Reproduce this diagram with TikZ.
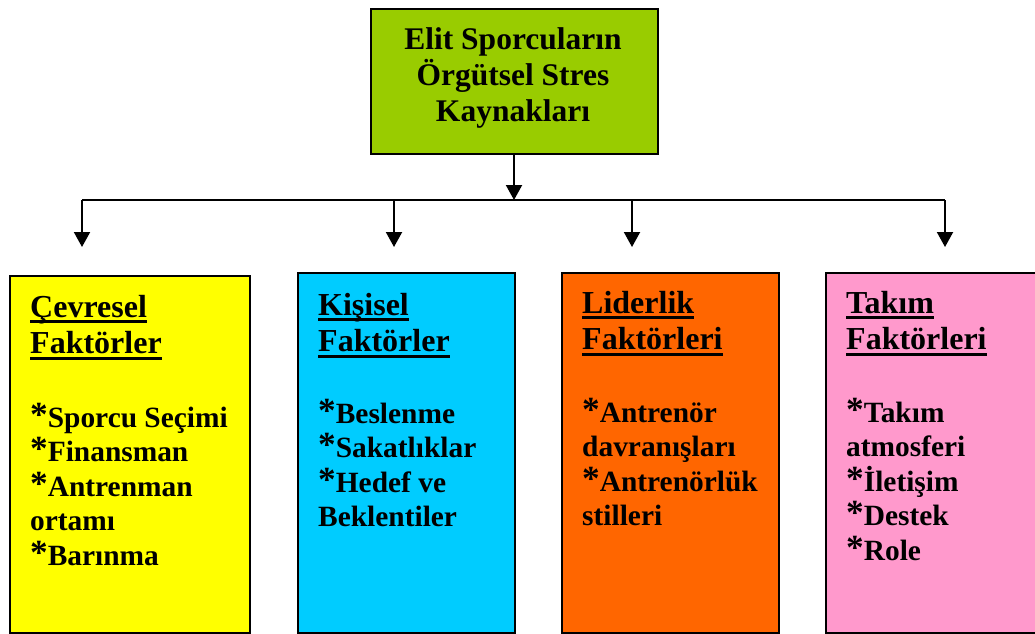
\documentclass[tikz,border=0pt]{standalone}
\usepackage{fontspec}
\usepackage{graphicx}
\setmainfont{Liberation Serif}
\usetikzlibrary{arrows.meta}

\definecolor{topgreen}{HTML}{99CC00}
\definecolor{boxyellow}{HTML}{FFFF00}
\definecolor{boxcyan}{HTML}{00CCFF}
\definecolor{boxorange}{HTML}{FF6600}
\definecolor{boxpink}{HTML}{FF99CC}

% thick underline for the box headings
\newsavebox\hdbox
\newcommand\hdul[1]{\leavevmode\sbox\hdbox{#1}\rlap{\rule[-6pt]{\wd\hdbox}{3pt}}\usebox\hdbox}
% raised asterisk in front of each item
\newcommand\itemstar{\leavevmode\raisebox{1pt}{\scalebox{1.2}{*}}}

\tikzset{
  panel/.style={draw=black, line width=2pt, rectangle, inner sep=0pt, anchor=north west},
  headtext/.style={anchor=base west, inner sep=0pt, font=\fontsize{32}{36.5}\selectfont\bfseries},
  bodytext/.style={anchor=base west, inner sep=0pt, font=\fontsize{29.4}{34.5}\selectfont\bfseries},
  link/.style={line width=2pt},
  arr/.style={line width=2pt, -{Triangle[width=16pt,length=15pt]}}
}

\begin{document}
\begin{tikzpicture}[x=1pt, y=-1pt]
\useasboundingbox (0,0) rectangle (1035,633);

% title box
\node[panel, fill=topgreen, minimum width=287pt, minimum height=145pt] (top) at (369.5,8) {};
\node[anchor=base, inner sep=0pt, font=\fontsize{31.5}{36}\selectfont\bfseries] (title) at (513,49)
  {\parbox[t]{280pt}{\centering Elit Sporcuların\\Örgütsel Stres\\Kaynakları}};

% the four factor boxes
\node[panel, fill=boxyellow, minimum width=240pt, minimum height=357pt] (b1) at (9,275) {};
\node[panel, fill=boxcyan,   minimum width=217pt, minimum height=360pt] (b2) at (297,272) {};
\node[panel, fill=boxorange, minimum width=217pt, minimum height=360pt] (b3) at (561,272) {};
\node[panel, fill=boxpink,   minimum width=225pt, minimum height=360pt] (b4) at (825,272) {};

% headings
\node[headtext] (h1) at (30,317)  {\parbox[t]{215pt}{\raggedright\hdul{Çevresel}\\\hdul{Faktörler}}};
\node[headtext] (h2) at (318,315) {\parbox[t]{190pt}{\raggedright\hdul{Kişisel}\\\hdul{Faktörler}}};
\node[headtext] (h3) at (582,313) {\parbox[t]{190pt}{\raggedright\hdul{Liderlik}\\\hdul{Faktörleri}}};
\node[headtext] (h4) at (846,313) {\parbox[t]{190pt}{\raggedright\hdul{Takım}\\\hdul{Faktörleri}}};

% item lists
\node[bodytext] (l1) at (30,427)  {\parbox[t]{215pt}{\raggedright \itemstar Sporcu Seçimi\\\itemstar Finansman\\\itemstar Antrenman\\ortamı\\\itemstar Barınma}};
\node[bodytext] (l2) at (318,423) {\parbox[t]{190pt}{\raggedright \itemstar Beslenme\\\itemstar Sakatlıklar\\\itemstar Hedef ve\\Beklentiler}};
\node[bodytext] (l3) at (582,422) {\parbox[t]{190pt}{\raggedright \itemstar Antrenör\\davranışları\\\itemstar Antrenörlük\\stilleri}};
\node[bodytext] (l4) at (846,422) {\parbox[t]{190pt}{\raggedright \itemstar Takım\\atmosferi\\\itemstar İletişim\\\itemstar Destek\\\itemstar Role}};

% connector tree
\coordinate (j1) at (82,200);
\coordinate (j2) at (394,200);
\coordinate (j3) at (632,200);
\coordinate (j4) at (945,200);
\coordinate (hub) at (top.south |- j1);
\coordinate (t1) at (82,247);
\coordinate (t2) at (394,247);
\coordinate (t3) at (632,247);
\coordinate (t4) at (945,247);

\draw[arr] (top.south) -- (hub);
\draw[link] (j1) -- (j4);
\draw[arr] (j1) -- (t1);
\draw[arr] (j2) -- (t2);
\draw[arr] (j3) -- (t3);
\draw[arr] (j4) -- (t4);
\end{tikzpicture}
\end{document}
